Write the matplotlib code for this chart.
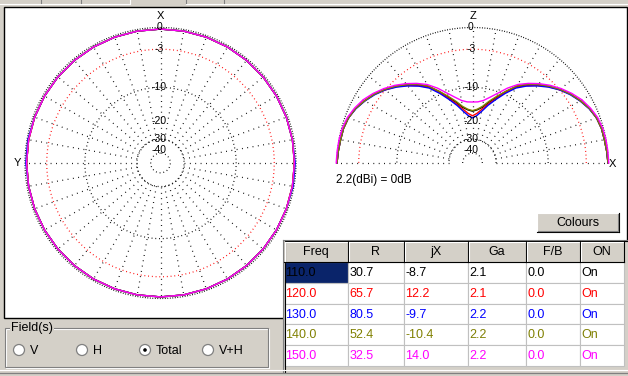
import numpy as np
import matplotlib
matplotlib.use('Agg')
import matplotlib.pyplot as plt
from matplotlib.patches import Rectangle, Circle
from matplotlib.transforms import offset_copy

plt.rcParams['font.family'] = ['Liberation Sans', 'DejaVu Sans']

# ---------------- data ----------------
freqs = ['110.0', '120.0', '130.0', '140.0', '150.0']
series_colors = ['#000000', '#FF0000', '#0000FF', '#808000', '#FF00FF']
R_vals = ['30.7', '65.7', '80.5', '52.4', '32.5']
jX_vals = ['-8.7', '12.2', '-9.7', '-10.4', '14.0']
Ga_vals = ['2.1', '2.1', '2.2', '2.2', '2.2']
FB_vals = ['0.0', '0.0', '0.0', '0.0', '0.0']
ON_vals = ['On', 'On', 'On', 'On', 'On']
table_headers = ['Freq', 'R', 'jX', 'Ga', 'F/B', 'ON']

# azimuth pattern (dB), every 10 degrees 0..350
azimuth_deg = np.arange(0, 360, 10)
az_110 = [-0.2, -0.2, -0.2, -0.2, -0.2, -0.2, -0.2, -0.2, -0.2, -0.2, -0.2, -0.2,
          -0.2, -0.2, -0.2, -0.2, -0.2, -0.2, -0.2, -0.2, -0.2, -0.2, -0.2, -0.2,
          -0.2, -0.2, -0.2, -0.2, -0.2, -0.2, -0.2, -0.2, -0.2, -0.2, -0.2, -0.2]
az_120 = [-0.2, -0.2, -0.2, -0.2, -0.2, -0.2, -0.2, -0.2, -0.2, -0.2, -0.2, -0.2,
          -0.2, -0.2, -0.2, -0.2, -0.2, -0.2, -0.2, -0.2, -0.2, -0.2, -0.2, -0.2,
          -0.2, -0.2, -0.2, -0.2, -0.2, -0.2, -0.2, -0.2, -0.2, -0.2, -0.2, -0.2]
az_130 = [-0.2, -0.2, -0.2, -0.2, -0.2, -0.2, -0.2, -0.2, -0.1, -0.1, -0.2, -0.2,
          -0.2, -0.2, -0.2, -0.2, -0.2, -0.2, -0.2, -0.2, -0.2, -0.2, -0.2, -0.2,
          -0.2, -0.2, -0.1, -0.1, -0.2, -0.2, -0.2, -0.2, -0.2, -0.2, -0.2, -0.2]
az_140 = [-0.2, -0.2, -0.2, -0.2, -0.2, -0.2, -0.2, -0.2, -0.2, -0.2, -0.2, -0.2,
          -0.2, -0.2, -0.2, -0.2, -0.2, -0.2, -0.2, -0.2, -0.2, -0.2, -0.2, -0.2,
          -0.2, -0.2, -0.2, -0.2, -0.2, -0.2, -0.2, -0.2, -0.2, -0.2, -0.2, -0.2]
az_150 = [-0.2, -0.2, -0.2, -0.2, -0.2, -0.2, -0.2, -0.2, -0.2, -0.2, -0.2, -0.2,
          -0.2, -0.2, -0.2, -0.2, -0.2, -0.2, -0.2, -0.2, -0.2, -0.2, -0.2, -0.2,
          -0.2, -0.2, -0.2, -0.2, -0.2, -0.2, -0.2, -0.2, -0.2, -0.2, -0.2, -0.2]
azimuth_series = [az_110, az_120, az_130, az_140, az_150]

# elevation pattern (dB), every 5 degrees 0..180
elevation_deg = np.arange(0, 181, 5)
el_110 = [0.0, -0.1, -0.2, -0.25, -0.45, -0.85, -1.45, -2.1, -2.9, -3.8, -4.9, -6.0,
          -7.3, -9.3, -11.4, -13.2, -15.0, -16.0, -16.5, -16.0, -15.0, -13.2, -11.4,
          -9.3, -7.3, -6.0, -4.9, -3.8, -2.9, -2.1, -1.45, -0.85, -0.45, -0.25, -0.2,
          -0.1, 0.0]
el_120 = [0.0, -0.1, -0.2, -0.25, -0.45, -0.85, -1.45, -2.1, -3.0, -3.9, -5.0, -6.2,
          -7.5, -9.5, -11.7, -13.7, -15.6, -17.2, -18.1, -17.2, -15.6, -13.7, -11.7,
          -9.5, -7.5, -6.2, -5.0, -3.9, -3.0, -2.1, -1.45, -0.85, -0.45, -0.25, -0.2,
          -0.1, 0.0]
el_130 = [0.0, -0.1, -0.2, -0.25, -0.45, -0.9, -1.5, -2.2, -3.0, -4.0, -5.1, -6.3,
          -7.7, -9.8, -12.0, -14.1, -16.3, -18.0, -18.9, -18.0, -16.3, -14.1, -12.0,
          -9.8, -7.7, -6.3, -5.1, -4.0, -3.0, -2.2, -1.5, -0.9, -0.45, -0.25, -0.2,
          -0.1, 0.0]
el_140 = [0.0, -0.1, -0.2, -0.25, -0.45, -0.85, -1.45, -2.1, -2.9, -3.8, -4.8, -5.9,
          -7.2, -9.2, -11.1, -12.9, -14.7, -15.8, -16.3, -15.8, -14.7, -12.9, -11.1,
          -9.2, -7.2, -5.9, -4.8, -3.8, -2.9, -2.1, -1.45, -0.85, -0.45, -0.25, -0.2,
          -0.1, 0.0]
el_150 = [0.1, 0.05, 0.0, -0.1, -0.3, -0.7, -1.2, -1.9, -2.7, -3.6, -4.6, -5.7,
          -6.9, -8.5, -10.3, -11.8, -13.0, -13.6, -13.7, -13.6, -13.0, -11.8, -10.3,
          -8.5, -6.9, -5.7, -4.6, -3.6, -2.7, -1.9, -1.2, -0.7, -0.3, -0.1, 0.0,
          0.05, 0.1]
elevation_series = [el_110, el_120, el_130, el_140, el_150]

ring_label_db = [0, -3, -10, -20, -30, -40]
ring_labels = ['0', '-3', '-10', '-20', '-30', '-40']
black_rings_db = [-10, -30, -45]
red_rings_db = [-3]
outer_ring_db = 0
spoke_inner_db = -30
ref_text = '2.2(dBi) = 0dB'
field_options = ['V', 'H', 'Total', 'V+H']
field_selected = 'Total'

# ---------------- style ----------------
GRAY = '#D4D0C8'
DARK = '#808080'
NAVY = '#0A246A'
W, H = 628, 376

fig = plt.figure(figsize=(W / 100, H / 100), dpi=100)
fig.patch.set_facecolor(GRAY)

bg = fig.add_axes([0, 0, 1, 1])
bg.set_xlim(0, W)
bg.set_ylim(H, 0)
bg.axis('off')

# tab strip at top
bg.plot([0, 130], [3.5, 3.5], color='white', lw=0.8)
bg.plot([186, W], [3.5, 3.5], color='white', lw=0.8)
for xv, c in [(41, DARK), (81, DARK), (130, 'white'), (186, DARK), (224, DARK)]:
    bg.plot([xv, xv], [0, 3], color=c, lw=0.8)

# white drawing panel
bg.add_patch(Rectangle((4, 7), 623, 311, facecolor='white', edgecolor='black', lw=1.0))


def fwd(db):
    return 0.89 ** (-np.asarray(db, dtype=float) / 2.0)


def inv(r):
    r = np.clip(np.asarray(r, dtype=float), 1e-12, None)
    return -2.0 * np.log(r) / np.log(0.89)


def make_polar(cx, cy, R, zero_loc):
    rect = [(cx - R) / W, (H - cy - R) / H, 2 * R / W, 2 * R / H]
    ax = fig.add_axes(rect, projection='polar')
    ax.set_theta_zero_location(zero_loc)
    ax.set_rscale('function', functions=(fwd, inv))
    ax.set_ylim(-200, 0)
    ax.set_xticks([])
    ax.set_yticks([])
    ax.grid(False)
    ax.spines['polar'].set_visible(False)
    ax.patch.set_visible(False)
    return ax


def draw_grid(ax, th0, th1, label_theta, spokes):
    th = np.linspace(th0, th1, 721)
    ax.plot(th, np.full_like(th, outer_ring_db), color='black', lw=0.9,
            ls=(0, (0.7, 1.3)), clip_on=False)
    for d in black_rings_db:
        ax.plot(th, np.full_like(th, d), color='black', lw=0.9,
                ls=(0, (0.7, 2.3)), clip_on=False)
    for d in red_rings_db:
        ax.plot(th, np.full_like(th, d), color='#FF0000', lw=0.9,
                ls=(0, (0.7, 2.3)), clip_on=False)
    for a in spokes:
        t = np.deg2rad(a)
        ax.plot([t, t], [spoke_inner_db, outer_ring_db], color='black', lw=0.9,
                ls=(0, (0.7, 3.6)), clip_on=False)
    tr = offset_copy(ax.transData, fig=fig, x=-1.5, y=0, units='dots')
    for d, s in zip(ring_label_db, ring_labels):
        ax.text(label_theta, d, s, transform=tr, ha='center', va='center',
                fontsize=7.5, color='black', clip_on=False)


# left: azimuth plot
axL = make_polar(160.5, 163, 135.5, 'N')
draw_grid(axL, 0, 2 * np.pi, 0.0, np.arange(0, 360, 10))
for vals, col in zip(azimuth_series, series_colors):
    th = np.deg2rad(np.append(azimuth_deg, 360))
    ax_vals = np.append(vals, vals[0])
    axL.plot(th, ax_vals, color=col, lw=1.0, clip_on=False)

# right: elevation plot
axR = make_polar(472.5, 163, 135.5, 'E')
draw_grid(axR, 0, np.pi, np.pi / 2, np.arange(10, 180, 10))
axR.plot([0, 0], [spoke_inner_db, 0], color='black', lw=0.9, ls=(0, (0.7, 3.6)), clip_on=False)
axR.plot([np.pi, np.pi], [spoke_inner_db, 0], color='black', lw=0.9, ls=(0, (0.7, 3.6)), clip_on=False)
for vals, col in zip(elevation_series, series_colors):
    axR.plot(np.deg2rad(elevation_deg), vals, color=col, lw=1.0, clip_on=False)

# axis letters and reference text
bg.text(160.5, 16, 'X', ha='center', va='center', fontsize=8)
bg.text(17, 163, 'Y', ha='center', va='center', fontsize=8)
bg.text(472.5, 16, 'Z', ha='center', va='center', fontsize=8)
bg.text(612, 164, 'X', ha='center', va='center', fontsize=8)
bg.text(336, 180, ref_text, ha='left', va='center', fontsize=8.5)

# Colours button
bx, by, bw, bh = 537, 213, 82, 19
bg.add_patch(Rectangle((bx, by), bw, bh, facecolor=GRAY, edgecolor='none'))
bg.plot([bx, bx + bw], [by, by], color='white', lw=0.8)
bg.plot([bx, bx], [by, by + bh], color='white', lw=0.8)
bg.plot([bx, bx + bw], [by + bh, by + bh], color='black', lw=0.8)
bg.plot([bx + bw, bx + bw], [by, by + bh], color='black', lw=0.8)
bg.plot([bx + 1, bx + bw - 1], [by + bh - 1, by + bh - 1], color=DARK, lw=0.8)
bg.plot([bx + bw - 1, bx + bw - 1], [by + 1, by + bh - 1], color=DARK, lw=0.8)
bg.text(bx + bw / 2, by + bh / 2 + 0.5, 'Colours', ha='center', va='center', fontsize=9)

# table
cols = [284, 348, 404, 468, 526, 580, 624]
ty0 = 240
hdr_h = 22
row_h = 20.8
bg.add_patch(Rectangle((283, ty0), W - 283, 132, facecolor=GRAY, edgecolor='none'))
bg.plot([283, W], [ty0, ty0], color=DARK, lw=0.8)
bg.plot([283, 283], [ty0, 372], color=DARK, lw=0.8)
bg.plot([284.5, W], [ty0 + 1, ty0 + 1], color='black', lw=0.8)
bg.plot([284.5, 284.5], [ty0 + 1, 372], color='black', lw=0.8)
for i, name in enumerate(table_headers):
    c0, c1 = cols[i], cols[i + 1]
    y0, y1 = ty0 + 1, ty0 + hdr_h
    bg.add_patch(Rectangle((c0, y0), c1 - c0, y1 - y0, facecolor=GRAY, edgecolor='none'))
    bg.plot([c0 + 1, c1], [y0 + 1, y0 + 1], color='white', lw=0.8)
    bg.plot([c0 + 1, c0 + 1], [y0 + 1, y1], color='white', lw=0.8)
    bg.plot([c1 - 0.5, c1 - 0.5], [y0, y1], color='black', lw=0.8)
    bg.plot([c0, c1], [y1 - 0.5, y1 - 0.5], color='black', lw=0.8)
    bg.text((c0 + c1) / 2, (y0 + y1) / 2 + 0.5, name, ha='center', va='center', fontsize=9)

rows = list(zip(freqs, R_vals, jX_vals, Ga_vals, FB_vals, ON_vals))
body_top = ty0 + hdr_h
for r, (vals, col) in enumerate(zip(rows, series_colors)):
    y0 = body_top + r * row_h
    for i, v in enumerate(vals):
        c0, c1 = cols[i], cols[i + 1]
        fc = NAVY if (r == 0 and i == 0) else 'white'
        bg.add_patch(Rectangle((c0, y0), c1 - c0, row_h, facecolor=fc,
                               edgecolor='#C0C0C0', lw=0.8))
        bg.text(c0 + 1.5, y0 + row_h / 2 + 0.5, v, ha='left', va='center',
                fontsize=9, color=col)

# Field(s) group
bg.add_patch(Rectangle((6, 329), 263, 39, facecolor='none', edgecolor='white', lw=0.8))
bg.add_patch(Rectangle((5, 328), 263, 39, facecolor='none', edgecolor=DARK, lw=0.8))
bg.text(11, 328.5, 'Field(s)', ha='left', va='center', fontsize=9,
        bbox=dict(facecolor=GRAY, edgecolor='none', pad=0.6))
radio_x = [19, 82, 145, 208]
for x, name in zip(radio_x, field_options):
    bg.add_patch(Circle((x, 350), 5.5, facecolor='white', edgecolor=DARK, lw=0.9))
    if name == field_selected:
        bg.add_patch(Circle((x, 350), 1.8, facecolor='black', edgecolor='none'))
    bg.text(x + 11, 350.5, name, ha='left', va='center', fontsize=9)

# bottom edge lines
bg.plot([0, W], [369.5, 369.5], color='white', lw=0.8)
bg.plot([0, W], [372.8, 372.8], color=DARK, lw=0.9)

fig.savefig('out.png', dpi=100, facecolor=GRAY)
